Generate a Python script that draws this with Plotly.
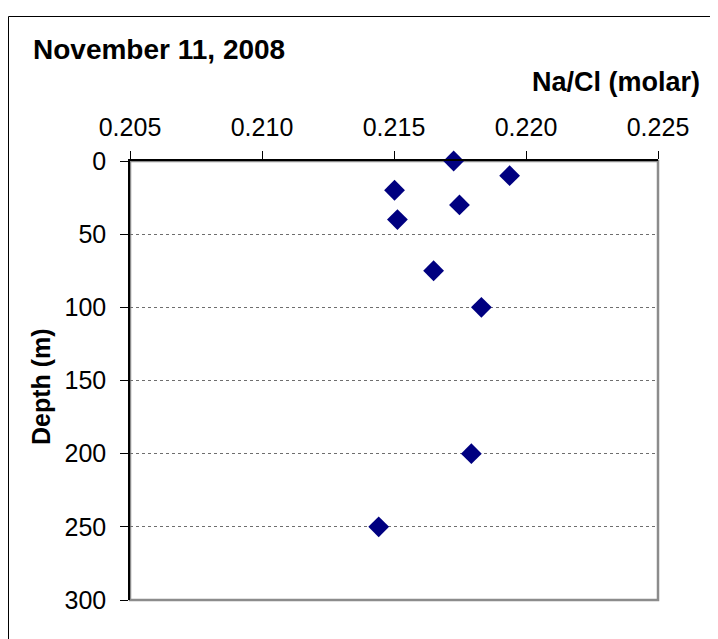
import plotly.graph_objects as go

# Data
na_cl_ratio = [0.21726, 0.21938, 0.21502, 0.21748, 0.21513, 0.21650, 0.21831, 0.21793, 0.21442]
depth_m = [0, 10, 20, 30, 40, 75, 100, 200, 250]

x_ticks = [0.205, 0.210, 0.215, 0.220, 0.225]
y_ticks = [0, 50, 100, 150, 200, 250, 300]

title_text = "November 11, 2008"
x_title = "Na/Cl (molar)"
y_title = "Depth (m)"

FONT = "Liberation Sans, Arial, sans-serif"
OX, OY = 8, 8  # page offset of the figure in the browser window
W, H = 718 - OX, 639 - OY
# desired plot-area edges in screen pixels
SL, ST, SR, SB = 130, 161, 658, 600
L, T = SL - OX, ST - OY
R, B = W - (SR - OX), H - (SB - OY)
pw, ph = W - L - R, H - T - B


def px_x(p):
    return (p - SL) / pw


def px_y(p):
    return (SB - p) / ph


fig = go.Figure()
fig.add_trace(go.Scatter(
    x=na_cl_ratio, y=depth_m, mode="markers",
    marker=dict(symbol="diamond", size=16, color="#000080", line=dict(width=0)),
    showlegend=False, cliponaxis=False,
))

fig.update_layout(
    width=W, height=H,
    margin=dict(l=L, r=R, t=T, b=B, pad=0),
    paper_bgcolor="white", plot_bgcolor="white",
    font=dict(family=FONT, color="black", size=25),
    xaxis=dict(
        side="top", range=[0.205, 0.225], tickvals=x_ticks,
        ticktext=[f"{v:.3f}" for v in x_ticks],
        showgrid=False, zeroline=False,
        showline=True, linecolor="black", linewidth=1.5,
        ticks="outside", ticklen=8, tickwidth=1, tickcolor="black",
        tickfont=dict(size=25, family=FONT), ticklabelstandoff=5,
    ),
    yaxis=dict(
        range=[300, 0], tickvals=y_ticks,
        showgrid=True, gridcolor="#6e6e6e", griddash="dot", gridwidth=1.3,
        zeroline=False,
        showline=True, linecolor="black", linewidth=1.5,
        ticks="outside", ticklen=8, tickwidth=1, tickcolor="black",
        tickfont=dict(size=25, family=FONT), ticklabelstandoff=9,
    ),
    shapes=[
        # plot-area border (right and bottom visible in gray)
        dict(type="rect", xref="paper", yref="paper", x0=0, y0=0, x1=1, y1=1,
             line=dict(color="#8c8c8c", width=2.5), layer="below"),
        # outer chart border: only top and left edges are within view
        dict(type="line", xref="paper", yref="paper",
             x0=px_x(8.5), y0=px_y(16.5), x1=px_x(718), y1=px_y(16.5),
             line=dict(color="black", width=1), layer="below"),
        dict(type="line", xref="paper", yref="paper",
             x0=px_x(8.5), y0=px_y(16.5), x1=px_x(8.5), y1=px_y(639),
             line=dict(color="black", width=1), layer="below"),
    ],
    annotations=[
        dict(text=f"<b>{title_text}</b>", xref="paper", yref="paper",
             x=px_x(31), y=px_y(49), xanchor="left", yanchor="middle",
             showarrow=False, font=dict(size=28, family=FONT)),
        dict(text=f"<b>{x_title}</b>", xref="paper", yref="paper",
             x=px_x(702), y=px_y(82), xanchor="right", yanchor="middle",
             showarrow=False, font=dict(size=27, family=FONT)),
        dict(text=f"<b>{y_title}</b>", xref="paper", yref="paper",
             x=px_x(41), y=px_y(387), xanchor="center", yanchor="middle",
             textangle=-90, showarrow=False, font=dict(size=25, family=FONT)),
    ],
)

fig.write_html("out.html")
